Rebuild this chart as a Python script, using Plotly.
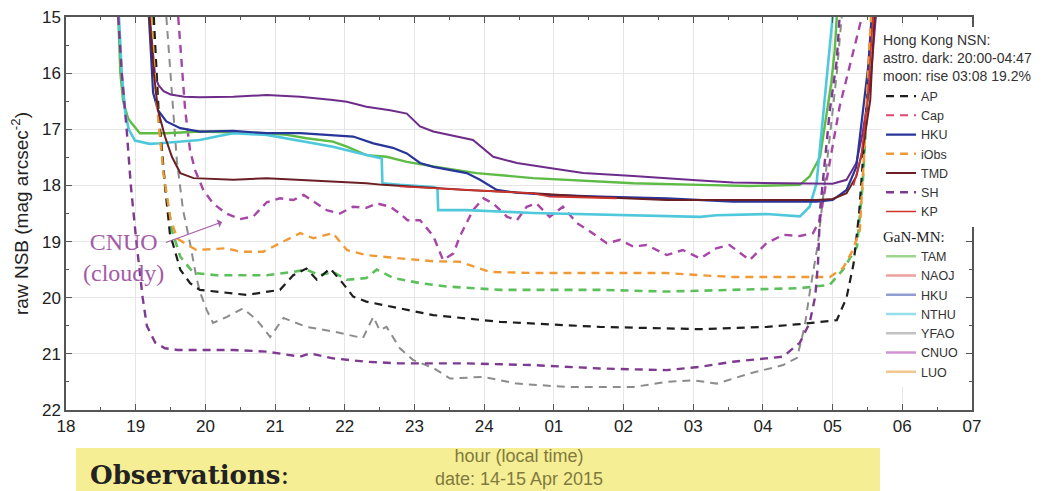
import plotly.graph_objects as go

# ---------------- axes / labels ----------------
HOUR_TICKS = list(range(18, 32))
HOUR_LABELS = ["18", "19", "20", "21", "22", "23", "24", "01", "02", "03", "04", "05", "06", "07"]
MAG_TICKS = list(range(15, 23))

# ---------------- Hong Kong NSN series (hour since midnight of 14 Apr; >24 = 15 Apr) ----------------
ap_hour = [19.26, 19.33, 19.42, 19.49, 19.64, 19.78, 19.92, 20.16, 20.59, 21.07, 21.26, 21.45, 21.6, 21.79,
           21.97, 22.12, 22.31, 22.79, 23.27, 24.23, 25.66, 27.1, 28.06, 28.53, 29.06, 29.2, 29.3, 29.38,
           29.44, 29.5, 29.57]
ap_mag = [15.0, 16.7, 18.0, 18.85, 19.5, 19.74, 19.86, 19.89, 19.95, 19.86, 19.6, 19.48, 19.68, 19.48,
          19.74, 19.98, 20.07, 20.19, 20.31, 20.43, 20.52, 20.56, 20.52, 20.47, 20.4, 20.0, 19.4, 18.5,
          17.5, 16.4, 15.0]

cap_hour = [None]
cap_mag = [None]

hku_hour = [19.19, 19.22, 19.25, 19.32, 19.44, 19.64, 19.92, 20.4, 20.88, 21.36, 21.83, 22.12, 22.41, 22.69,
            22.89, 23.08, 23.27, 23.51, 23.75, 23.94, 24.18, 24.47, 24.94, 25.66, 26.62, 27.57, 28.05, 28.77,
            29.0, 29.2, 29.34, 29.43, 29.51, 29.56]
hku_mag = [15.0, 15.8, 16.35, 16.66, 16.86, 16.98, 17.04, 17.03, 17.07, 17.07, 17.1, 17.13, 17.25, 17.33,
           17.43, 17.6, 17.67, 17.72, 17.78, 17.9, 18.08, 18.13, 18.17, 18.2, 18.23, 18.29, 18.29, 18.29,
           18.26, 18.08, 17.67, 16.78, 15.89, 15.0]

iobs_hour = [19.22, 19.3, 19.4, 19.5, 19.6, 19.73, 19.87, 20.3, 20.5, 20.83, 21.07, 21.36, 21.55, 21.83,
             22.03, 22.31, 22.79, 23.27, 23.65, 24.08, 24.7, 26.62, 27.1, 27.57, 28.96, 29.15, 29.29, 29.39,
             29.45, 29.5, 29.55]
iobs_mag = [15.0, 16.5, 17.8, 18.6, 18.95, 19.05, 19.15, 19.12, 19.18, 19.18, 19.03, 18.85, 18.94, 18.85,
            19.15, 19.24, 19.3, 19.35, 19.36, 19.54, 19.56, 19.56, 19.6, 19.63, 19.63, 19.47, 19.15, 18.8,
            17.5, 16.2, 15.0]

tmd_hour = [19.2, 19.26, 19.32, 19.42, 19.52, 19.64, 19.83, 20.4, 20.88, 21.36, 21.83, 22.31, 22.55, 23.27,
            23.75, 24.7, 25.5, 26.62, 27.57, 28.77, 29.0, 29.2, 29.34, 29.43, 29.54, 29.6]
tmd_mag = [15.0, 16.0, 16.66, 17.13, 17.49, 17.78, 17.87, 17.9, 17.87, 17.9, 17.93, 17.96, 17.99, 18.05,
           18.08, 18.14, 18.2, 18.26, 18.26, 18.26, 18.24, 18.14, 17.84, 17.37, 16.48, 15.0]

sh_hour = [18.75, 18.8, 18.87, 18.93, 19.01, 19.1, 19.16, 19.28, 19.42, 19.6, 19.92, 20.4, 20.88, 21.36,
           21.5, 21.83, 22.31, 22.79, 23.75, 24.7, 25.66, 26.62, 27.1, 27.57, 28.05, 28.29, 28.53, 28.67,
           28.75, 28.79, 28.82, 28.89, 28.96, 29.06, 29.1]
sh_mag = [15.0, 16.0, 17.0, 18.0, 19.0, 20.0, 20.5, 20.8, 20.9, 20.93, 20.93, 20.93, 20.96, 21.05,
          20.99, 21.08, 21.14, 21.17, 21.17, 21.2, 21.26, 21.29, 21.23, 21.14, 21.08, 21.05, 20.8, 20.45,
          19.98, 19.39, 18.44, 17.55, 16.66, 15.77, 15.0]

kp_hour = [22.79, 23.75, 24.7, 24.94, 25.9, None, 29.3, 29.41, 29.5, 29.58]
kp_mag = [18.02, 18.08, 18.14, 18.2, 18.23, None, 18.0, 17.49, 16.5, 15.0]

# ---------------- other curves on the plot ----------------
purple_hour = [19.2, 19.24, 19.28, 19.33, 19.4, 19.5, 19.7, 19.92, 20.4, 20.88, 21.36, 21.83, 22.03, 22.31,
               22.65, 22.89, 23.08, 23.27, 23.51, 23.84, 24.13, 24.47, 24.94, 25.42, 26.14, 26.71, 27.1,
               27.57, 28.05, 28.53, 29.0, 29.2, 29.34, 29.43, 29.54, 29.62]
purple_mag = [15.0, 15.6, 16.06, 16.22, 16.32, 16.38, 16.42, 16.43, 16.42, 16.39, 16.42, 16.48, 16.51, 16.6,
              16.66, 16.72, 16.95, 17.04, 17.1, 17.19, 17.49, 17.6, 17.69, 17.78, 17.83, 17.87, 17.91,
              17.95, 17.96, 17.97, 17.97, 17.9, 17.6, 17.07, 16.18, 15.0]

tam_hour = [18.75, 18.78, 18.82, 18.89, 18.94, 19.06, 19.44, 19.92, 20.88, 21.17, 21.45, 21.83, 22.03, 22.31,
            22.6, 22.89, 23.27, 23.89, 24.7, 25.61, 26.14, 27.1, 27.81, 28.53, 28.67, 28.82, 28.91, 28.98,
            29.03, 29.06]
tam_mag = [15.0, 16.0, 16.5, 16.8, 16.89, 17.07, 17.07, 17.04, 17.07, 17.1, 17.16, 17.22, 17.31, 17.46,
           17.49, 17.58, 17.66, 17.78, 17.87, 17.93, 17.96, 17.99, 18.01, 17.99, 17.84, 17.49, 16.78, 16.18,
           15.6, 15.0]

nthu_hour = [18.76, 18.8, 18.85, 18.9, 18.99, 19.2, 19.35, 19.63, 19.92, 20.16, 20.4, 20.88, 21.17, 21.45,
             21.83, 22.12, 22.31, 22.53, 22.54, 22.79, 23.27, 23.33, 23.34, 23.75, 24.7, 26.14, 27.1, 27.33,
             28.05, 28.53, 28.67, 28.77, 28.84, 28.91, 28.96, 29.0]
nthu_mag = [15.0, 16.0, 16.7, 17.0, 17.2, 17.26, 17.25, 17.22, 17.19, 17.13, 17.07, 17.1, 17.16, 17.22,
            17.31, 17.4, 17.46, 17.52, 17.96, 17.99, 18.03, 18.05, 18.44, 18.44, 18.49, 18.53, 18.56, 18.53,
            18.51, 18.55, 18.38, 17.96, 17.07, 16.18, 15.6, 15.0]

cnuo_hour = [19.61, 19.66, 19.71, 19.78, 19.85, 19.97, 20.11, 20.3, 20.5, 20.69, 20.88, 21.07, 21.26, 21.41,
             21.55, 21.74, 21.93, 22.12, 22.31, 22.46, 22.65, 22.79, 22.9, 23.08, 23.27, 23.41, 23.56, 23.65,
             23.84, 23.99, 24.13, 24.33, 24.47, 24.61, 24.75, 24.94, 25.13, 25.33, 25.52, 25.76, 25.95,
             26.14, 26.33, 26.62, 26.85, 27.1, 27.33, 27.52, 27.81, 28.05, 28.29, 28.53, 28.72, 28.82,
             28.9, 29.0, 29.1, 29.2, 29.3, 29.42]
cnuo_mag = [15.0, 15.77, 16.66, 17.37, 17.72, 18.08, 18.32, 18.5, 18.6, 18.55, 18.3, 18.23, 18.26, 18.17,
            18.29, 18.44, 18.5, 18.38, 18.4, 18.32, 18.38, 18.5, 18.62, 18.62, 18.9, 19.33, 19.21, 18.91,
            18.44, 18.23, 18.32, 18.56, 18.62, 18.38, 18.32, 18.56, 18.38, 18.67, 18.82, 19.03, 18.97,
            19.09, 19.06, 19.24, 19.15, 19.3, 19.12, 19.06, 19.33, 19.03, 18.88, 18.9, 18.85, 18.6,
            18.0, 17.3, 16.6, 16.1, 15.6, 15.0]

green_d_hour = [19.24, 19.32, 19.42, 19.52, 19.64, 19.83, 20.16, 20.88, 21.26, 21.45, 21.64, 21.83, 22.03,
                22.31, 22.46, 22.7, 23.08, 23.46, 24.23, 25.66, 26.62, 27.57, 28.53, 28.96, 29.15, 29.35,
                29.43, 29.5, 29.56]
green_d_mag = [15.0, 16.7, 18.0, 18.8, 19.27, 19.56, 19.6, 19.6, 19.54, 19.5, 19.6, 19.54, 19.68,
               19.65, 19.5, 19.65, 19.74, 19.8, 19.86, 19.86, 19.89, 19.86, 19.83, 19.77, 19.5, 19.09,
               18.0, 16.5, 15.0]

yfao_hour = [19.44, 19.52, 19.59, 19.68, 19.78, 19.87, 19.92, 20.02, 20.11, 20.31, 20.54, 20.74, 20.93, 21.12,
             21.45, 21.83, 22.26, 22.41, 22.5, 22.6, 22.69, 22.79, 22.98, 23.27, 23.51, 23.98, 24.47, 25.19,
             26.14, 26.62, 27.0, 27.34, 27.81, 28.29, 28.49, 28.6, 28.67, 28.79, 28.9, 29.0, 29.06, 29.13]
yfao_mag = [15.0, 16.36, 17.55, 18.44, 19.03, 19.63, 19.89, 20.22, 20.45, 20.34, 20.19, 20.4, 20.7, 20.36,
            20.52, 20.6, 20.72, 20.34, 20.58, 20.52, 20.7, 20.9, 21.11, 21.25, 21.44, 21.41, 21.53, 21.59,
            21.59, 21.5, 21.47, 21.53, 21.35, 21.2, 21.07, 20.5, 19.92, 19.03, 17.8, 16.7, 16.0, 15.0]

FONT = "Arial, Liberation Sans, sans-serif"
SERIF = "Liberation Serif, Times New Roman, serif"
DASH = "8px,6px"

fig = go.Figure()


def add(x, y, name, color, dash="solid", width=2.2, legend="legend", showlegend=True, opacity=1.0):
    fig.add_trace(go.Scatter(
        x=x, y=y, mode="lines", name=name, legend=legend, showlegend=showlegend,
        opacity=opacity, connectgaps=False,
        line=dict(color=color, dash=dash, width=width), hoverinfo="skip"))


# unlabeled curves first (drawn beneath)
add(yfao_hour, yfao_mag, "YFAO", "#8c8c8c", DASH, 2.0, showlegend=False)
add(green_d_hour, green_d_mag, "TAM dashed", "#5cc05a", DASH, 2.6, showlegend=False)
add(cnuo_hour, cnuo_mag, "CNUO", "#a646a6", DASH, 2.4, showlegend=False)
add(tam_hour, tam_mag, "TAM", "#5dbb46", "solid", 2.4, showlegend=False)
add(nthu_hour, nthu_mag, "NTHU", "#4fc8dc", "solid", 2.6, showlegend=False)
add(purple_hour, purple_mag, "purple", "#6e2c8a", "solid", 2.0, showlegend=False)

# Hong Kong NSN legend group
add(ap_hour, ap_mag, "AP", "#1e1e1e", DASH, 2.2)
add(cap_hour, cap_mag, "Cap", "#e0466e", DASH, 2.0)
add(hku_hour, hku_mag, "HKU", "#28359a", "solid", 2.2)
add(iobs_hour, iobs_mag, "iObs", "#f09a36", DASH, 2.4)
add(tmd_hour, tmd_mag, "TMD", "#6b1f24", "solid", 2.0)
add(sh_hour, sh_mag, "SH", "#7e3a90", DASH, 2.4)
add(kp_hour, kp_mag, "KP", "#d0342c", "solid", 1.6)

# GaN-MN legend group (legend keys)
gan_names = ["TAM", "NAOJ", "HKU", "NTHU", "YFAO", "CNUO", "LUO"]
gan_colors = ["#5dbb46", "#e0605a", "#4b5bb0", "#4fc8dc", "#9a9a9a", "#b04ab0", "#eaa040"]
for nm, col in zip(gan_names, gan_colors):
    add([None], [None], nm, col, "solid", 2.4, legend="legend2", opacity=0.6)

# "CNUO (cloudy)" label with arrow pointing at the cloudy CNUO curve
fig.add_annotation(x=20.24, y=18.65, xref="x", yref="y", axref="x", ayref="y", ax=18.83, ay=19.29,
                   text="CNUO<br>(cloudy)", showarrow=True, align="center",
                   font=dict(family=SERIF, size=24, color="#a45ba8"),
                   arrowcolor="#a45ba8", arrowwidth=1.2, arrowhead=1, arrowsize=1.2, standoff=0)

# yellow banner
fig.add_shape(type="rect", xref="paper", yref="paper", x0=0.011, x1=0.8985, y0=-0.21, y1=-0.0967,
              fillcolor="#f6ee94", line=dict(width=0), layer="above")
fig.add_annotation(x=0.0243, y=-0.165, xref="paper", yref="paper", xanchor="left", yanchor="middle",
                   text="<b>Observations</b>:", showarrow=False,
                   font=dict(family="DejaVu Serif, serif", size=26, color="#222222"))

axis_common = dict(showline=True, linecolor="#555555", linewidth=1.5, mirror="ticks",
                   ticks="inside", ticklen=6, tickcolor="#555555", tickwidth=1.2,
                   showgrid=True, gridcolor="#e6e6e6", gridwidth=1, zeroline=False, automargin=False,
                   ticklabeloverflow="allow",
                   tickfont=dict(family=FONT, size=17, color="#222222"))

# the page body adds an 8px offset, so the figure is 8px smaller than the window
fig.update_layout(
    width=1036, height=483,
    margin=dict(l=58, r=72, t=9, b=81),
    paper_bgcolor="white", plot_bgcolor="white",
    font=dict(family=FONT, color="#333333"),
    xaxis=dict(range=[18, 31], tickmode="array", tickvals=HOUR_TICKS, ticktext=HOUR_LABELS,
               minor=dict(dtick=0.5, ticks="inside", ticklen=3, tickcolor="#555555", showgrid=False),
               title=dict(text="hour (local time)<br>date: 14-15 Apr 2015", standoff=14,
                          font=dict(family=FONT, size=18, color="#7f7a3e")),
               **axis_common),
    yaxis=dict(range=[22, 15], tickmode="array", tickvals=MAG_TICKS,
               minor=dict(dtick=0.5, ticks="inside", ticklen=3, tickcolor="#555555", showgrid=False),
               title=dict(text="raw NSB (mag arcsec<sup>-2</sup>)", standoff=8,
                          font=dict(family=FONT, size=19, color="#222222")),
               **axis_common),
    legend=dict(x=0.8996, xanchor="left", y=0.975, yanchor="top", bgcolor="white", borderwidth=0,
                font=dict(family=FONT, size=12.5, color="#333333"),
                title=dict(text="Hong Kong NSN:<br>astro. dark: 20:00-04:47<br>moon: rise 03:08 19.2%",
                           font=dict(family=FONT, size=14, color="#333333")),
                tracegroupgap=0, itemwidth=30),
    legend2=dict(x=0.8996, xanchor="left", y=0.478, yanchor="top", bgcolor="white", borderwidth=0,
                 font=dict(family=FONT, size=12.5, color="#333333"),
                 title=dict(text="GaN-MN:", font=dict(family=SERIF, size=15, color="#222222")),
                 entrywidth=110, entrywidthmode="pixels", tracegroupgap=0, itemwidth=30),
)

fig.write_html("out.html")
